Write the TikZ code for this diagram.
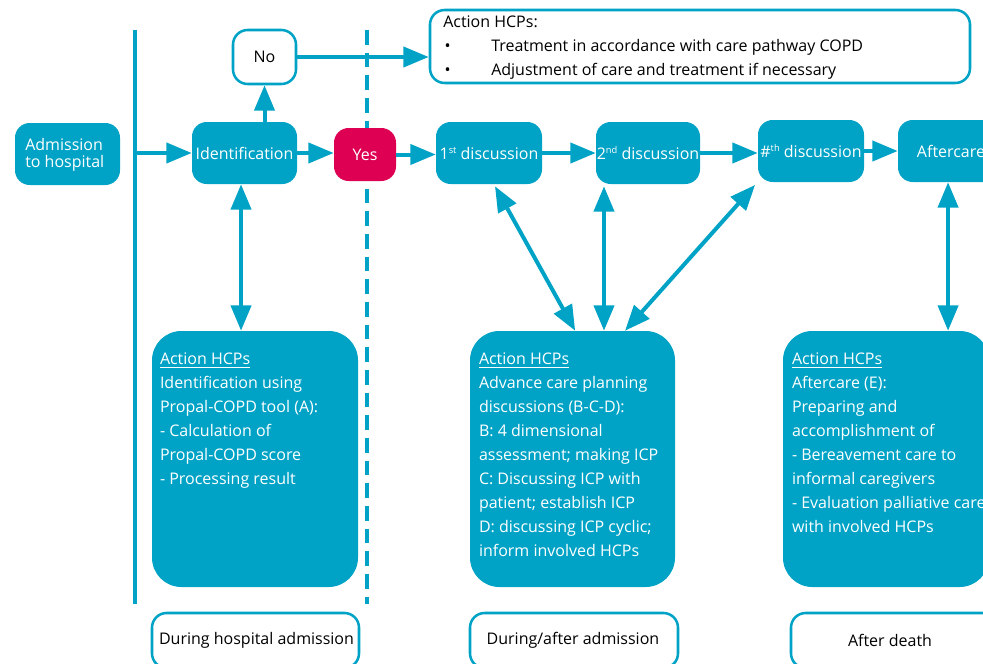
\documentclass[tikz,border=0pt]{standalone}
\usepackage{fontspec}
\setmainfont{Open Sans}
\usetikzlibrary{arrows.meta,calc}
\definecolor{teal1}{HTML}{00A3C6}
\definecolor{crim}{HTML}{DE0052}
\newcommand\supx[1]{\raisebox{4.2pt}{\fontsize{7pt}{7pt}\selectfont #1}}
\begin{document}
\begin{tikzpicture}[x=0.75pt,y=-0.75pt,
  every node/.style={font=\fontsize{12pt}{18pt}\selectfont},
  sz/.style 2 args={minimum width=#1*0.75pt,minimum height=#2*0.75pt},
  fillbox/.style={draw=none,fill=teal1,rounded corners=11pt,text=white,inner sep=0pt},
  bigbox/.style={fillbox,rounded corners=22pt},
  linebox/.style={draw=teal1,line width=1.9pt,fill=white,rounded corners=11pt,inner sep=0pt,text=black},
  yesbox/.style={fillbox,fill=crim},
  txt/.style={inner sep=0pt,anchor=north west,align=left,text=white},
  tip/.tip={Triangle[length=19pt,width=15pt]},
  conn/.style={draw=teal1,line width=3pt,-tip},
  dconn/.style={draw=teal1,line width=3pt,tip-tip},
  sep/.style={draw=teal1,line width=3pt},
  dsep/.style={draw=teal1,line width=3pt,dash pattern=on 11pt off 6pt}]
\useasboundingbox (0,0) rectangle (983,664);
\clip (0,0) rectangle (983,664);

% separators
\coordinate (vtop) at (135,30);
\coordinate (vbot) at (135,604);
\coordinate (dtop) at (367,30);
\coordinate (dbot) at (367,604);
\draw[sep] (vtop) -- (vbot);
\draw[dsep] (dtop) -- (dbot);

% boxes
\node[fillbox,sz={105}{62}] (adm) at (67.5,154) {};
\node[txt,font=\fontsize{12pt}{12.75pt}\selectfont] (admt) at (25,138) {Admission\\to hospital};
\node[fillbox,sz={105}{62}] (ident) at (244.5,153) {Identification};
\node[linebox,sz={63}{54}] (no) at (264.5,57) {No};
\node[linebox,sz={540}{73}] (act0) at (700,46.5) {};
\node[txt,text=black] (act0t) at (443,15) {Action HCPs:\\\makebox[36pt][l]{\kern1pt•}Treatment in accordance with care pathway COPD\\\makebox[36pt][l]{\kern1pt•}Adjustment of care and treatment if necessary};
\node[yesbox,sz={62}{53}] (yes) at (365,154.5) {Yes};
\node[fillbox,sz={106}{62}] (d1) at (489,153) {1\supx{st} discussion};
\node[fillbox,sz={104}{62}] (d2) at (648,153) {2\supx{nd} discussion};
\node[fillbox,sz={106}{62}] (dn) at (811,151) {\#\supx{th} discussion};
\node[fillbox,sz={106}{62}] (after) at (951,151) {Aftercare};

\node[bigbox,sz={206}{256}] (b1) at (255,459) {};
\node[bigbox,sz={205}{256}] (b2) at (572.5,459) {};
\node[bigbox,sz={206}{256}] (b3) at (886,459) {};
\node[txt] (b1t) at ($(b1.north west)+(8,22)$) {\underline{Action HCPs}\\Identification using\\Propal-COPD tool (A):\\- Calculation of\\Propal-COPD score\\- Processing result};
\node[txt] (b2t) at ($(b2.north west)+(9,22)$) {\underline{Action HCPs}\\Advance care planning\\discussions (B-C-D):\\B: 4 dimensional\\assessment; making ICP\\C: Discussing ICP with\\patient; establish ICP\\D: discussing ICP cyclic;\\inform involved HCPs};
\node[txt] (b3t) at ($(b3.north west)+(9,22)$) {\underline{Action HCPs}\\Aftercare (E):\\Preparing and\\accomplishment of\\- Bereavement care to\\informal caregivers\\- Evaluation palliative care\\with involved HCPs};

\node[linebox,sz={207}{55}] (l1) at (255.5,640.5) {};
\node[linebox,sz={208}{55}] (l2) at (574,640.5) {};
\node[linebox,sz={206}{55}] (l3) at (894,640.5) {};
\node[inner sep=0pt] (l1t) at (256.5,640) {During hospital admission};
\node[inner sep=0pt] (l2t) at (573,640) {During/after admission};
\node[inner sep=0pt] (l3t) at (890,640) {After death};

% connectors
\draw[conn] (vtop |- ident.west) -- (ident.west);
\draw[conn] (no.south |- ident.north) -- (no.south);
\draw[conn] (no.east) -- (no.east -| act0.west);
\draw[conn] (ident.east) -- (ident.east -| yes.west);
\draw[conn] (yes.east) -- (yes.east -| d1.west);
\draw[conn] (d1.east) -- (d2.west);
\draw[conn] (d2.east) -- (d2.east -| dn.west);
\draw[conn] (dn.east) -- (after.west);

\draw[dconn] ([xshift=-2.6pt]ident.south) -- ([xshift=-2.6pt]ident.south |- b1.north);
\draw[dconn] ([xshift=4.5pt,yshift=-1.5pt]d1.south) -- ([xshift=2pt]b2.north);
\draw[dconn] ([xshift=-33pt,yshift=-1.5pt]d2.south) -- ([xshift=-33pt]d2.south |- b2.north);
\draw[dconn] ([xshift=-2pt,yshift=-2pt]dn.south west) -- ([xshift=39.4pt]b2.north);
\draw[dconn] ([xshift=-2.2pt]after.south) -- ([xshift=-2.2pt]after.south |- b3.north);
\end{tikzpicture}
\end{document}
